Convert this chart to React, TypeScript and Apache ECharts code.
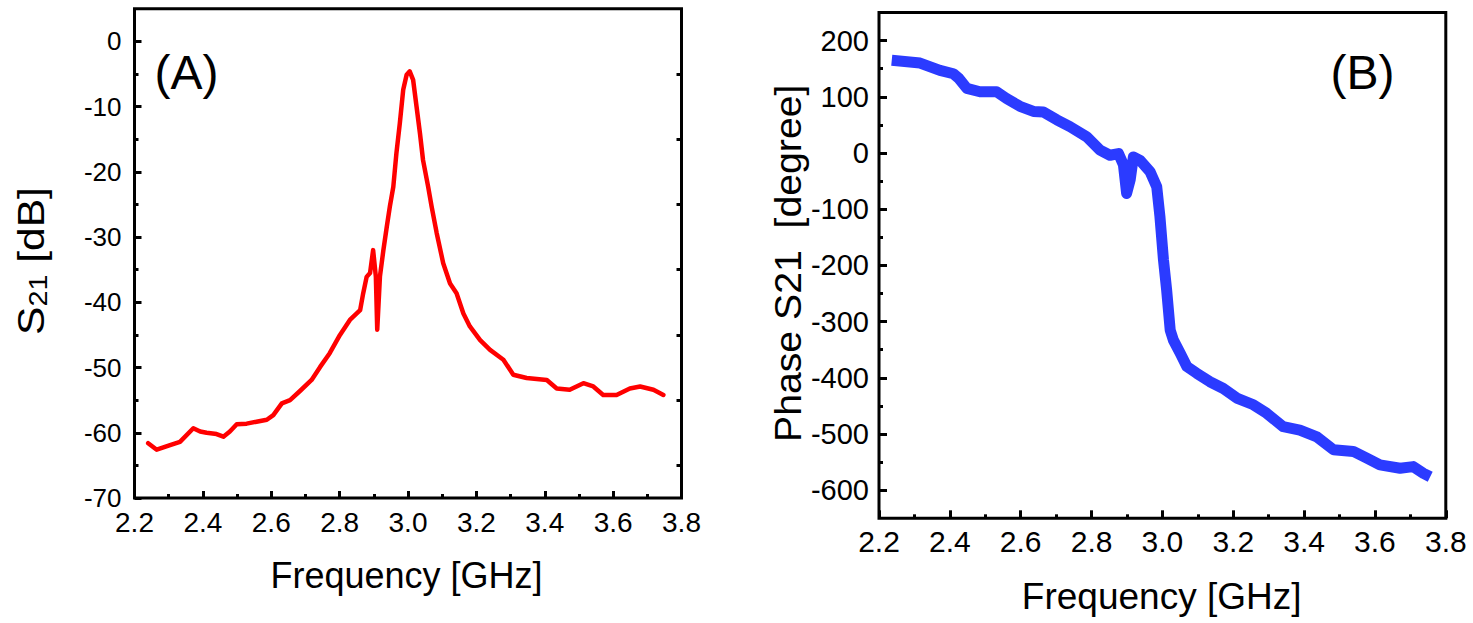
import React, { useEffect, useRef } from 'react';
import * as echarts from 'echarts';

// ---- data ----
const freqA = [2.240, 2.265, 2.304, 2.333, 2.372, 2.392, 2.411, 2.44, 2.46, 2.479, 2.499, 2.528, 2.557, 2.587, 2.606, 2.631, 2.655, 2.684, 2.718, 2.743, 2.771, 2.801, 2.83, 2.85, 2.86, 2.869, 2.879, 2.889, 2.898, 2.906, 2.91, 2.918, 2.928, 2.938, 2.947, 2.957, 2.966, 2.976, 2.986, 2.996, 3.005, 3.015, 3.025, 3.035, 3.044, 3.059, 3.069, 3.084, 3.103, 3.123, 3.142, 3.162, 3.181, 3.211, 3.24, 3.279, 3.308, 3.347, 3.406, 3.435, 3.473, 3.513, 3.542, 3.571, 3.61, 3.649, 3.679, 3.718, 3.747];
const s21 = [-61.6, -62.6, -61.9, -61.4, -59.3, -59.8, -60.0, -60.2, -60.6, -59.8, -58.7, -58.6, -58.3, -58.0, -57.3, -55.5, -55.0, -53.6, -51.9, -49.9, -47.8, -45.0, -42.7, -41.7, -41.2, -38.6, -36.1, -35.5, -32.0, -36.1, -44.2, -36.0, -32.0, -28.4, -25.3, -22.3, -17.2, -12.6, -7.4, -5.1, -4.6, -5.9, -10.0, -14.1, -18.2, -22.3, -25.3, -29.4, -34.0, -37.1, -38.6, -41.7, -43.7, -45.8, -47.3, -48.8, -51.1, -51.6, -51.9, -53.2, -53.4, -52.4, -52.9, -54.2, -54.2, -53.2, -52.9, -53.4, -54.2];

const freqB = [2.236, 2.316, 2.372, 2.41, 2.425, 2.448, 2.485, 2.532, 2.56, 2.598, 2.636, 2.664, 2.702, 2.739, 2.786, 2.824, 2.852, 2.876, 2.89, 2.899, 2.909, 2.918, 2.937, 2.965, 2.984, 2.993, 3.003, 3.012, 3.022, 3.031, 3.05, 3.069, 3.097, 3.134, 3.172, 3.21, 3.257, 3.294, 3.341, 3.388, 3.436, 3.483, 3.539, 3.577, 3.614, 3.671, 3.708, 3.737, 3.756];
const phaseB = [165, 160, 147, 141, 133, 115, 109, 109, 97, 83, 74, 73, 59, 47, 29, 5, -4, -1, -21, -72, -48, -7, -13, -33, -60, -113, -190, -244, -315, -333, -356, -380, -392, -407, -419, -436, -448, -463, -487, -493, -505, -528, -531, -543, -555, -561, -558, -570, -576];

const xTicks = [2.2, 2.4, 2.6, 2.8, 3.0, 3.2, 3.4, 3.6, 3.8];
const xMinor = [2.3, 2.5, 2.7, 2.9, 3.1, 3.3, 3.5, 3.7];
const yTicksA = [-70, -60, -50, -40, -30, -20, -10, 0];
const yMinorA = [-65, -55, -45, -35, -25, -15, -5];
const yTicksB = [-600, -500, -400, -300, -200, -100, 0, 100, 200];
const yMinorB = [-550, -450, -350, -250, -150, -50, 50, 150];

const FONT = "'Liberation Sans', Arial, sans-serif";

function zip(xs: number[], ys: number[]) {
  return xs.map((x, i) => [x, ys[i]]);
}

export default function App() {
  const ref = useRef<HTMLDivElement>(null);
  useEffect(() => {
    if (!ref.current) return;
    const chart = echarts.init(ref.current, undefined, { renderer: 'svg' });

    const gridA = { left: 134.5, top: 8.8, width: 547, height: 489.2 };
    const gridB = { left: 879, top: 12.5, width: 566.8, height: 505.8 };

    const majorX = (gridIndex: number, fs: number, margin: number, len: number) => ({
      type: 'value', gridIndex, min: 2.2, max: 3.8, position: 'bottom',
      splitLine: { show: false }, axisLine: { show: false, onZero: false },
      axisTick: { show: true, inside: true, length: len, lineStyle: { color: '#000', width: 3 }, customValues: xTicks },
      axisLabel: { show: true, customValues: xTicks, fontSize: fs, fontFamily: FONT, color: '#000', margin,
        formatter: (v: number) => v.toFixed(1) },
    });
    const minorX = (gridIndex: number, len: number) => ({
      type: 'value', gridIndex, min: 2.2, max: 3.8, position: 'bottom',
      splitLine: { show: false }, axisLine: { show: false, onZero: false },
      axisTick: { show: true, inside: true, length: len, lineStyle: { color: '#000', width: 3 }, customValues: xMinor },
      axisLabel: { show: false },
    });
    const yAxisDef = (gridIndex: number, min: number, max: number, position: string, values: number[], len: number, labels: boolean, fs = 25, margin = 12) => ({
      type: 'value', gridIndex, min, max, position,
      splitLine: { show: false }, axisLine: { show: false, onZero: false },
      axisTick: { show: true, inside: true, length: len, lineStyle: { color: '#000', width: 3 }, customValues: values },
      axisLabel: labels
        ? { show: true, customValues: values, fontSize: fs, fontFamily: FONT, color: '#000', margin }
        : { show: false },
    });

    chart.setOption({
      animation: false,
      backgroundColor: '#fff',
      grid: [
        { ...gridA, show: true, borderColor: '#000', borderWidth: 3, backgroundColor: 'transparent' },
        { ...gridB, show: true, borderColor: '#000', borderWidth: 3, backgroundColor: 'transparent' },
      ],
      xAxis: [
        majorX(0, 28, 10, 7),
        minorX(0, 4),
        majorX(1, 30, 8, 8),
        minorX(1, 4),
      ],
      yAxis: [
        yAxisDef(0, -70, 5, 'left', yTicksA, 7, true, 26, 13),
        yAxisDef(0, -70, 5, 'left', yMinorA, 4, false),
        yAxisDef(0, -70, 5, 'right', yMinorA, 5, false),
        yAxisDef(1, -650, 250, 'left', yTicksB, 8, true, 29, 10),
        yAxisDef(1, -650, 250, 'left', yMinorB, 4, false),
      ],
      series: [
        {
          type: 'line', xAxisIndex: 0, yAxisIndex: 0, data: zip(freqA, s21),
          showSymbol: false, smooth: false,
          lineStyle: { color: '#ff0000', width: 4.5, join: 'round', cap: 'round' },
        },
        {
          type: 'line', xAxisIndex: 2, yAxisIndex: 3, data: zip(freqB, phaseB),
          showSymbol: false, smooth: false,
          lineStyle: { color: '#2b3bff', width: 11, join: 'round', cap: 'butt' },
        },
      ],
      graphic: [
        {
          type: 'text', x: 31.5, y: 261, rotation: Math.PI / 2, scaleX: 1.15,
          style: {
            text: '{m|S}{s|21}{m| [dB]}', textAlign: 'center', textVerticalAlign: 'middle', fill: '#000',
            rich: {
              m: { fontSize: 37, fontFamily: FONT, lineHeight: 40, fill: '#000' },
              s: { fontSize: 25, fontFamily: FONT, lineHeight: 22, verticalAlign: 'bottom', fill: '#000' },
            },
          },
        },
        {
          type: 'text', x: 406.5, y: 575,
          style: { text: 'Frequency [GHz]', fontSize: 36, fontFamily: FONT, fill: '#000', textAlign: 'center', textVerticalAlign: 'middle' },
        },
        {
          type: 'text', x: 186.5, y: 72.5,
          style: { text: '(A)', fontSize: 48, fontFamily: FONT, fill: '#000', textAlign: 'center', textVerticalAlign: 'middle' },
        },
        {
          type: 'text', x: 788.3, y: 263.3, rotation: Math.PI / 2, scaleX: 1.06,
          style: { text: 'Phase S21  [degree]', fontSize: 37, fontFamily: FONT, fill: '#000', textAlign: 'center', textVerticalAlign: 'middle' },
        },
        {
          type: 'text', x: 1161.7, y: 596.5,
          style: { text: 'Frequency [GHz]', fontSize: 37, fontFamily: FONT, fill: '#000', textAlign: 'center', textVerticalAlign: 'middle' },
        },
        {
          type: 'text', x: 1362.5, y: 72.5,
          style: { text: '(B)', fontSize: 48, fontFamily: FONT, fill: '#000', textAlign: 'center', textVerticalAlign: 'middle' },
        },
      ],
    });
    return () => chart.dispose();
  }, []);
  return <div ref={ref} style={{ position: 'absolute', left: 0, top: 0, width: 1473, height: 623 }} />;
}
